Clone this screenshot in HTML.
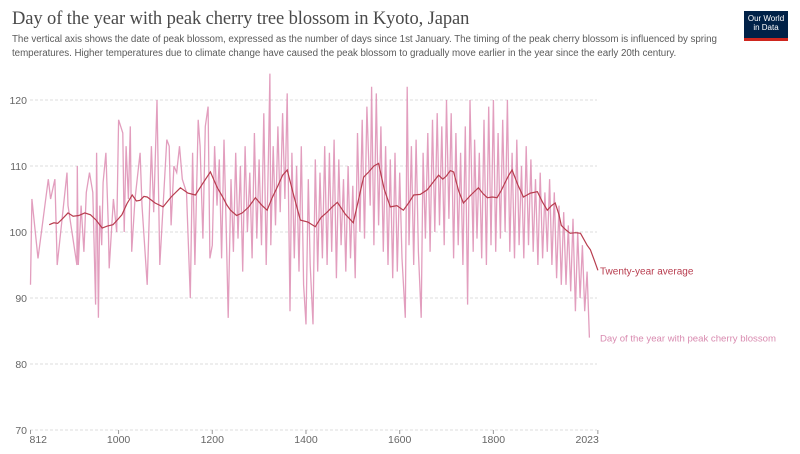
<!DOCTYPE html>
<html><head><meta charset="utf-8">
<style>
body{margin:0;background:#fff;font-family:"Liberation Sans",sans-serif;}
#wrap{position:relative;width:800px;height:454px;overflow:hidden;background:#fff;}
h1{position:absolute;left:12px;top:9px;margin:0;font-family:"Liberation Serif",serif;font-weight:normal;font-size:18.5px;color:#4a4a4a;letter-spacing:-0.1px;white-space:nowrap;}
.sub{position:absolute;left:12px;top:33px;font-size:9.8px;line-height:14px;color:#5b5b5b;white-space:nowrap;letter-spacing:-0.05px;}
.logo{position:absolute;left:744px;top:11px;width:44px;height:24px;background:#002147;border-bottom:3px solid #ce261e;color:#fff;font-size:8px;line-height:9px;text-align:center;padding-top:3px;box-sizing:content-box;}
svg{position:absolute;left:0;top:0;}
</style></head><body>
<div id="wrap">
<h1>Day of the year with peak cherry tree blossom in Kyoto, Japan</h1>
<div class="sub">The vertical axis shows the date of peak blossom, expressed as the number of days since 1st January. The timing of the peak cherry blossom is influenced by spring<br>temperatures. Higher temperatures due to climate change have caused the peak blossom to gradually move earlier in the year since the early 20th century.</div>
<div class="logo">Our World<br>in Data</div>
<svg id="chart" width="800" height="454"></svg>
</div>
<script>
const rawYears=[812,815,828,850,855,864,869,890,892,911,912,914,920,926,931,938,945,951,953,957,960,964,967,973,978,980,989,996,1000,1009,1012,1016,1021,1025,1028,1035,1046,1050,1061,1070,1075,1082,1088,1103,1108,1112,1118,1124,1130,1136,1145,1153,1158,1163,1170,1174,1180,1185,1191,1195,
1200,1205,1210,1215,1220,1225,1230,1234,1240,1245,1250,1255,1260,1265,1270,1275,1280,1285,1290,1295,1300,1305,1310,1315,1320,1323,1325,1330,1335,1340,1345,1350,1355,1360,1366,1370,1375,1380,1385,1390,1395,1400,1405,1409,1415,1420,1425,1430,1435,1440,1445,1450,1455,1460,1465,1470,1475,1480,1485,1490,1495,1500,1505,1510,1515,1520,1525,1530,1537,1540,1545,1550,1555,1560,1565,1570,1575,1580,1585,1590,1595,1600,1605,1612,1616,1620,1625,1630,1635,1640,1646,1650,1655,1660,1665,1670,1675,1680,1685,1690,1695,1700,1705,1710,1715,1720,1725,1730,1735,1740,1745,1750,1757,1760,1765,1770,1775,1780,1785,1790,1795,1800,1805,1810,1815,1820,1825,1830,1835,1840,1845,1850,1855,1860,1865,1870,1875,1880,1885,1890,1895,1900,1905,1910,1915,1920,1925,1930,1935,1940,1945,1950,1955,1960,1965,1970,1975,1980,1985,1990,1995,2000,2005,2010,2015,2020,2023];
const rawValues=[92,105,96,108,105,108,95,109,104,95,110,95,104,97,106,109,106,89,112,87,104,98,107.5,112,101,94.5,105,100,117,115,100,113,105,116,97,105,112,104,92,113,103,120,95,114,113,101,110,109,113,108,106,90,112,95,117,113,99,116,119,96,
98,113,104,111,96,114,100,87,108,97,112,99,110,94,113,100,109,96,115,99,111,98,118,95,112,124,98,113,101,116,103,118,105,121,88,112,96,110,94,113,92,86,108,95,86,111,94,109,96,113,95,112,97,114,93,111,98,108,94,110,96,107,93,115,100,117,99,119,104,122,98,121,101,116,97,113,95,111,93,112,94,109,96,87,122,98,113,95,114,97,87,112,99,115,97,117,100,118,101,116,98,120,102,118,96,115,98,112,95,116,89,120,97,114,99,112,96,117,95,119,98,120,97,115,99,117,100,120,97,112,96,114,98,110,96,113,98,111,97,108,95,109,96,106,97,108,95,106,93,104,92,103,92,101,91,102,88,100,90,98,88,94,84];
const avgYears=[852,862,870,880,892,903,915,928,940,952,965,976,988,997,1007,1018,1029,1038,1046,1054,1061,1078,1095,1112,1132,1148,1164,1180,1196,1210,1223,1231,1239,1252,1264,1278,1292,1305,1317,1328,1340,1350,1360,1374,1388,1404,1420,1432,1445,1456,1467,1484,1501,1512,1523,1534,1545,1555,1567,1580,1594,1608,1619,1630,1644,1659,1671,1683,1692,1700,1708,1715,1726,1736,1752,1768,1778,1787,1798,1808,1817,1825,1833,1840,1852,1864,1879,1894,1905,1915,1924,1932,1940,1945,1955,1964,1975,1986,2000,2007,2015,2023];
const avgValues=[101.1,101.4,101.3,102,102.9,102.4,102.5,102.9,102.6,101.8,100.6,100.9,101.1,101.8,102.6,104.3,105.6,104.7,104.8,105.4,105.3,104.4,103.8,105.3,106.7,105.9,105.6,107.4,109.1,106.8,105.2,104.1,103.3,102.5,102.9,103.8,105.2,104.1,103.3,105.2,107,108.6,109.4,105.5,101.8,101.5,100.8,102.2,103,103.8,104.5,102.7,101.4,104.9,108.3,109.1,110,110.4,106.5,103.8,104,103.3,104.4,105.6,105.7,106.4,107.5,108.6,108,108.5,109.3,109.1,106.2,104.4,105.6,106.7,105.8,105.2,105.3,105.2,106.3,107.5,108.6,109.4,107.2,105.3,105.9,106.1,104.5,103.3,104,104.4,102.6,101,100.3,99.8,99.9,99.8,98,97.3,95.8,94.2];
const yTicks=[70,80,90,100,110,120];
const xTicks=[812,1000,1200,1400,1600,1800,2023];

const NS="http://www.w3.org/2000/svg";
const svg=document.getElementById('chart');
const x=v=>30.5+(v-812)*0.4685;
const y=v=>430-(v-70)*6.6;
function mk(t,a){const e=document.createElementNS(NS,t);for(const k in a)e.setAttribute(k,a[k]);svg.appendChild(e);return e;}
yTicks.forEach(t=>{
  const l=mk('line',{x1:30,x2:597,y1:y(t),y2:y(t),stroke:'#ddd','stroke-dasharray':'3,2'});
  
  
  const tx=mk('text',{x:27,y:y(t)+4,'text-anchor':'end','font-size':10.5,fill:'#666','font-family':'Liberation Sans, sans-serif'});
  tx.textContent=t;
  
  
});
xTicks.forEach((t,i)=>{
  const l=mk('line',{x1:x(t),x2:x(t),y1:430,y2:434,stroke:'#999'});
  
  
  const anchor=i===0?'start':(i===xTicks.length-1?'end':'middle');
  const tx=mk('text',{x:i===0?x(t)-1:(i===xTicks.length-1?x(t)+1:x(t)),y:443,'text-anchor':anchor,'font-size':10.5,fill:'#666','font-family':'Liberation Sans, sans-serif'});
  tx.textContent=t;
  
  
});
const rawPath=mk('path',{d:rawYears.map((yr,i)=>(i?'L':'M')+x(yr).toFixed(1)+','+y(rawValues[i]).toFixed(1)).join(''),fill:'none',stroke:'#dd8db3','stroke-width':1.3,'stroke-opacity':0.85});


const avgPath=mk('path',{d:avgYears.map((yr,i)=>(i?'L':'M')+x(yr).toFixed(1)+','+y(avgValues[i]).toFixed(1)).join(''),fill:'none',stroke:'#b83d4f','stroke-width':1.2});


const l1=mk('text',{x:600,y:y(avgValues[avgValues.length-1])+4,'font-size':10,fill:'#b83d4f','font-family':'Liberation Sans, sans-serif'});
l1.textContent='Twenty-year average';


const l2=mk('text',{x:600,y:y(rawValues[rawValues.length-1])+4,'font-size':9.6,fill:'#d98bb0','font-family':'Liberation Sans, sans-serif'});
l2.textContent='Day of the year with peak cherry blossom';


</script>
</body></html>
